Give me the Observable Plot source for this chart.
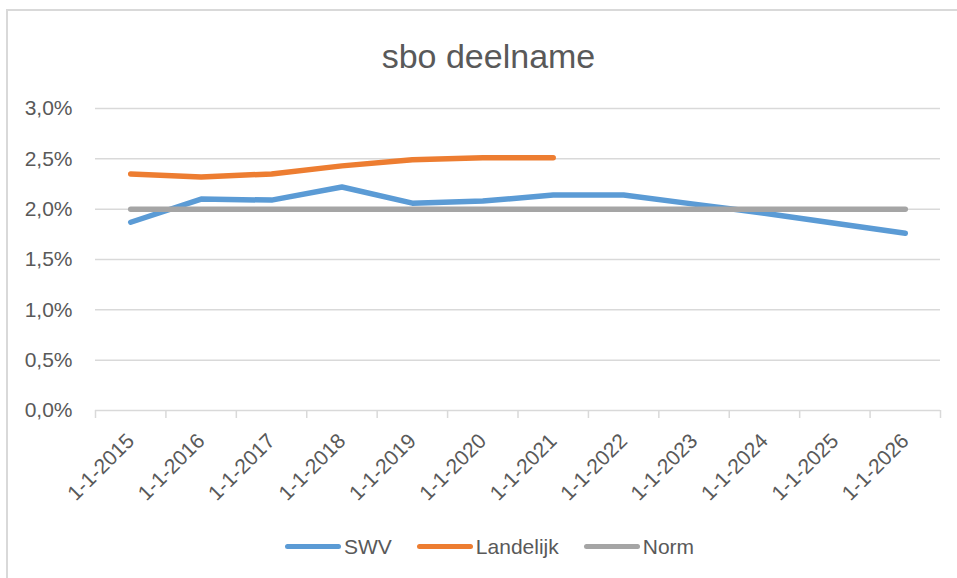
<!DOCTYPE html>
<html>
<head>
<meta charset="utf-8">
<script src="https://cdn.jsdelivr.net/npm/d3@7"></script>
<script src="https://cdn.jsdelivr.net/npm/@observablehq/plot@0.6"></script>
<style>
  html, body { margin: 0; padding: 0; background: #fff; }
  #wrap { position: relative; width: 957px; height: 578px; overflow: hidden;
          font-family: "Liberation Sans", Arial, sans-serif; color: #595959; }
  #frame { position: absolute; left: 6px; top: 9px; width: 960px; height: 580px;
           border-left: 2px solid #D9D9D9; border-top: 2px solid #D9D9D9; box-sizing: border-box; }
  #title { position: absolute; left: 0; width: 977px; top: 39px; text-align: center;
           font-size: 34px; line-height: 34px; }
  #chart { position: absolute; left: 0; top: 80px; }
  #legend { position: absolute; left: 285px; top: 536px; display: flex; align-items: center;
            font-size: 21px; line-height: 21px; }
  .item { display: flex; align-items: center; margin-right: 25px; }
  .sw { width: 56px; height: 5.5px; border-radius: 3px; margin-right: 3px; }
</style>
</head>
<body>
<div id="wrap">
  <div id="frame"></div>
  <div id="title">sbo deelname</div>
  <div id="chart"></div>
  <div id="legend"></div>
</div>
<script>
// ---- data ----
const categories = ["1-1-2015","1-1-2016","1-1-2017","1-1-2018","1-1-2019","1-1-2020",
                    "1-1-2021","1-1-2022","1-1-2023","1-1-2024","1-1-2025","1-1-2026"];
const swv       = [1.87, 2.10, 2.09, 2.22, 2.06, 2.08, 2.14, 2.14, 2.05, 1.96, 1.86, 1.76];
const landelijk = [2.35, 2.32, 2.35, 2.43, 2.49, 2.51, 2.51, null, null, null, null, null];
const norm      = [2.00, 2.00, 2.00, 2.00, 2.00, 2.00, 2.00, 2.00, 2.00, 2.00, 2.00, 2.00];
const seriesNames = ["SWV", "Landelijk", "Norm"];
const seriesColors = ["#5B9BD5", "#ED7D31", "#A5A5A5"];
const yTicks = [0, 0.005, 0.01, 0.015, 0.02, 0.025, 0.03];

// ---- build rows ----
function rows(name, vals) {
  return vals.map((v, i) => ({series: name, i: i + 0.5, label: categories[i], value: v == null ? null : v / 100}))
             .filter(d => d.value != null);
}
const dataSets = [rows("SWV", swv), rows("Landelijk", landelijk), rows("Norm", norm)];

const fmt = d => (d * 100).toFixed(1).replace(".", ",") + "%";

const plot = Plot.plot({
  width: 957,
  height: 440,
  marginTop: 28,
  marginBottom: 110,
  marginLeft: 95,
  marginRight: 17,
  style: {fontFamily: "'Liberation Sans', Arial, sans-serif", color: "#595959", background: "transparent"},
  x: {type: "linear", domain: [0, categories.length], axis: null},
  y: {domain: [0, 0.03], axis: null},
  color: {domain: seriesNames, range: seriesColors},
  marks: [
    Plot.gridY(yTicks.filter(t => t > 0), {stroke: "#D9D9D9", strokeOpacity: 1, strokeWidth: 1.5}),
    Plot.ruleY([0], {stroke: "#D9D9D9", strokeWidth: 1.5}),
    Plot.axisY({ticks: yTicks, tickSize: 0, tickPadding: 23, tickFormat: fmt, fontSize: 21, fill: "#595959", label: null}),
    Plot.axisX({ticks: d3.range(categories.length + 1), tickSize: 8, tickFormat: () => "", stroke: "#D9D9D9", strokeWidth: 1.5, label: null}),
    Plot.axisX({ticks: d3.range(categories.length).map(i => i + 0.5), tickSize: 0, tickPadding: 27,
                tickRotate: -45, tickFormat: t => categories[Math.floor(t)], fontSize: 21, fill: "#595959", label: null}),
    ...dataSets.map(ds => Plot.line(ds, {x: "i", y: "value", stroke: "series", strokeWidth: 5.5,
                                         strokeLinecap: "round", strokeLinejoin: "round"}))
  ]
});
document.getElementById("chart").appendChild(plot);

// ---- legend ----
const legend = document.getElementById("legend");
seriesNames.forEach((name, k) => {
  const item = document.createElement("div");
  item.className = "item";
  const sw = document.createElement("div");
  sw.className = "sw";
  sw.style.background = plot.scale("color").apply(name);
  const tx = document.createElement("span");
  tx.textContent = name;
  item.appendChild(sw); item.appendChild(tx);
  legend.appendChild(item);
});
</script>
</body>
</html>
